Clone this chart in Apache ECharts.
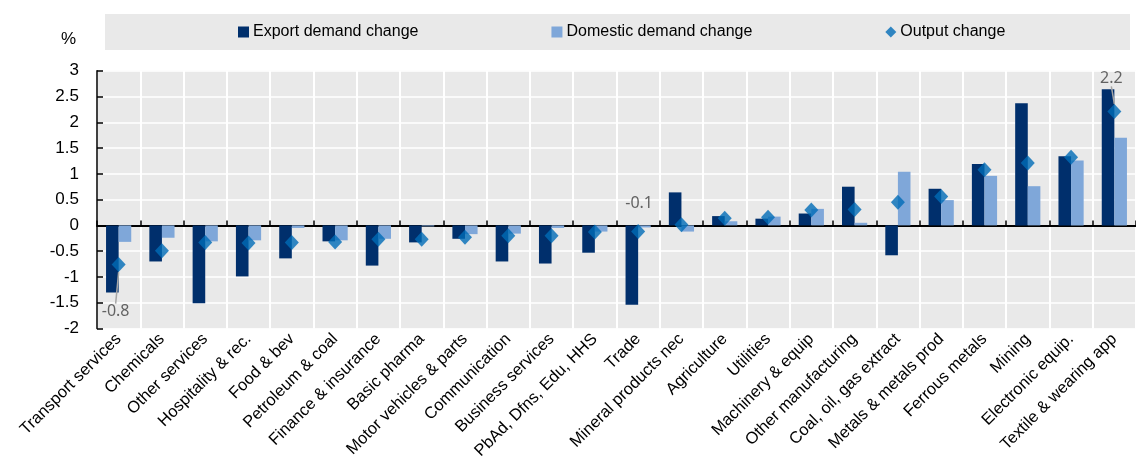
<!DOCTYPE html>
<html>
<head>
<meta charset="utf-8">
<script src="https://cdn.jsdelivr.net/npm/echarts@6/dist/echarts.min.js"></script>
<style>html,body{margin:0;padding:0;background:#fff}#c{width:1136px;height:462px}</style>
</head>
<body>
<div id="c"></div>
<script>
var categories = ['Transport services','Chemicals','Other services','Hospitality & rec.','Food & bev','Petroleum & coal','Finance & insurance','Basic pharma','Motor vehicles & parts','Communication','Business services','PbAd, Dfns, Edu, HHS','Trade','Mineral products nec','Agriculture','Utilities','Machinery & equip','Other manufacturing','Coal, oil, gas extract','Metals & metals prod','Ferrous metals','Mining','Electronic equip.','Textile & wearing app'];
var exportChange = [-1.30,-0.70,-1.51,-0.99,-0.64,-0.31,-0.78,-0.33,-0.26,-0.70,-0.74,-0.53,-1.54,0.64,0.18,0.13,0.23,0.75,-0.58,0.71,1.19,2.37,1.34,2.64];
var domesticChange = [-0.32,-0.24,-0.31,-0.29,-0.05,-0.29,-0.26,-0.02,-0.17,-0.16,-0.05,-0.12,-0.04,-0.12,0.08,0.17,0.32,0.05,1.04,0.49,0.96,0.76,1.26,1.70];
var outputChange = [-0.76,-0.49,-0.33,-0.34,-0.33,-0.32,-0.27,-0.27,-0.23,-0.20,-0.20,-0.13,-0.12,0.01,0.14,0.16,0.30,0.31,0.45,0.56,1.08,1.21,1.32,2.21];
var seriesNames = ['Export demand change','Domestic demand change','Output change'];
var labelledPoints = {0: '-0.8', 12: '-0.1', 23: '2.2'};

var FONT = '"Liberation Sans", Arial, sans-serif';
var chart = echarts.init(document.getElementById('c'), null, {renderer: 'canvas'});

var outputData = outputChange.map(function (v, i) {
  if (labelledPoints[i] !== undefined) {
    return {value: v, label: {show: true, formatter: labelledPoints[i]}, labelLine: {show: i !== 12}};
  }
  return v;
});

var option = {
  animation: false,
  textStyle: {fontFamily: FONT},
  graphic: [
    {type: 'rect', left: 105, top: 14, shape: {width: 1025, height: 36}, style: {fill: '#e9e9e9'}, z: -10},
    {type: 'text', left: 61, top: 31, style: {text: '%', fontSize: 17, fontFamily: FONT, fill: '#000'}}
  ],
  legend: {
    left: 238, top: 24, padding: 0,
    itemWidth: 11, itemHeight: 11, itemGap: 133,
    textStyle: {fontSize: 16, color: '#000', fontFamily: FONT, lineHeight: 16, padding: [0, 0, 0, -1]},
    data: [
      {name: seriesNames[0], icon: 'rect'},
      {name: seriesNames[1], icon: 'rect'},
      {name: seriesNames[2], icon: 'diamond'}
    ]
  },
  grid: {left: 97, right: -8, top: 70.7, bottom: 131.3, show: true, backgroundColor: '#e9e9e9', borderWidth: 0, containLabel: false},
  xAxis: [
    {
      type: 'category', data: categories, position: 'bottom',
      axisLine: {show: false, onZero: false},
      axisTick: {show: false},
      splitLine: {show: true, interval: 0, lineStyle: {color: '#ffffff', width: 2}},
      axisLabel: {interval: 0, rotate: 45, fontSize: 16.5, color: '#000', fontFamily: FONT, margin: 8}
    },
    {
      type: 'category', data: categories, position: 'bottom',
      axisLine: {show: true, onZero: true, lineStyle: {color: '#000', width: 2}},
      axisTick: {show: true, inside: true, length: 5, interval: 0, lineStyle: {color: '#000', width: 1.5}},
      axisLabel: {show: false},
      splitLine: {show: false}
    }
  ],
  yAxis: {
    type: 'value', min: -2, max: 3, interval: 0.5,
    axisLine: {show: true, lineStyle: {color: '#000', width: 1.5}},
    axisTick: {show: true, inside: true, length: 6, lineStyle: {color: '#000', width: 1.5}},
    splitLine: {show: true, lineStyle: {color: '#ffffff', width: 1.5}},
    axisLabel: {fontSize: 17, color: '#000', fontFamily: FONT, margin: 18}
  },
  series: [
    {name: seriesNames[0], type: 'bar', data: exportChange, barWidth: 12.6, barGap: '0%', itemStyle: {color: '#002f6c'}, z: 2},
    {name: seriesNames[1], type: 'bar', data: domesticChange, barWidth: 12.6, barGap: '0%', itemStyle: {color: '#7fa7d9'}, z: 2},
    {
      name: seriesNames[2], type: 'scatter', data: outputData, symbol: 'diamond', symbolSize: [14, 15],
      itemStyle: {color: '#006bb6'}, z: 5,
      label: {show: false, position: 'inside', fontSize: 16, color: '#404040', fontFamily: '"Noto Sans", "Open Sans", sans-serif'},
      labelLine: {show: true, lineStyle: {color: '#a6a6a6', width: 1.5}},
      labelLayout: function (p) {
        if (p.dataIndex === 0) return {dx: -3, dy: 47};
        if (p.dataIndex === 12) return {dx: 1, dy: -28};
        if (p.dataIndex === 23) return {dx: -3, dy: -33};
        return {};
      }
    }
  ]
};
chart.setOption(option);
</script>
</body>
</html>
